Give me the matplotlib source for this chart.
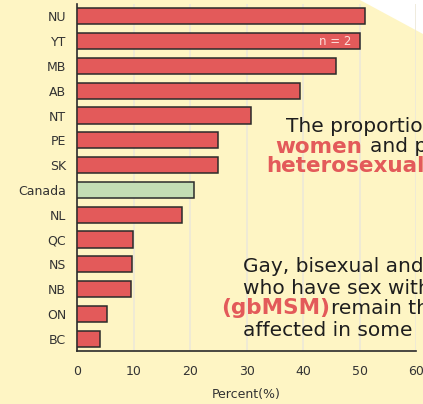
import matplotlib.pyplot as plt
import matplotlib.patches as patches

# данные
regions = ['NU', 'YT', 'MB', 'AB', 'NT', 'PE', 'SK', 'Canada', 'NL', 'QC', 'NS', 'NB', 'ON', 'BC']
percent = [51.0, 50.0, 45.9, 39.4, 30.8, 25.0, 25.0, 20.7, 18.5, 9.9, 9.7, 9.6, 5.2, 4.1]
xticks = [0, 10, 20, 30, 40, 50, 60]

bg = '#fef5c4'
red = '#e35a5a'
green = '#c3ddb4'
dark = '#2b2b2b'

fig = plt.figure(figsize=(4.23, 4.04), dpi=100, facecolor=bg)

# белый треугольник в правом верхнем углу
tri = patches.Polygon([(360 / 423, 1), (1, 1), (1, 1 - 34 / 404)], closed=True,
                      facecolor='white', edgecolor='none', transform=fig.transFigure, zorder=0)
fig.add_artist(tri)

ax = fig.add_axes([77.3 / 423, 1 - 351 / 404, (416 - 77.3) / 423, (351 - 4) / 404])
ax.set_facecolor('none')

colors = [green if r == 'Canada' else red for r in regions]
y = list(range(len(regions)))
ax.barh(y, percent, height=0.65, color=colors, edgecolor=dark, linewidth=1.1, zorder=3)

ax.set_xlim(0, 60)
ax.set_ylim(len(regions) - 0.5, -0.5)
ax.set_yticks(y)
ax.set_yticklabels(regions)
ax.set_xticks(xticks)
ax.tick_params(length=0, labelsize=9, colors='#333333', pad=10)
ax.tick_params(axis='y', pad=8)
ax.grid(True, axis='x', color='#ece8d8', linewidth=1.2, zorder=0)
ax.grid(False, axis='y')

for s in ['top', 'right']:
    ax.spines[s].set_visible(False)
for s in ['left', 'bottom']:
    ax.spines[s].set_color(dark)
    ax.spines[s].set_linewidth(1.2)

ax.set_xlabel('Percent(%)', fontsize=9, color='#333333', labelpad=7)

# подпись внутри бара YT
ax.text(percent[1] - 1.5, 1, 'n = 2', ha='right', va='center', fontsize=8.5, color='#fde0da', zorder=4)

# текст поверх графика (обрезан краем)
def ftxt(x, yy, s, bold=False, color='#1e1e1e'):
    fig.text(x / 423, 1 - yy / 404, s, fontsize=15.5 if bold else 14.5, color=color,
             va='center', ha='left', fontweight='bold' if bold else 'normal', family='DejaVu Sans')

ftxt(286, 127, 'The proportion')
ftxt(275, 147, 'women', bold=True, color=red)
ftxt(370, 147, 'and people')
ftxt(266, 166, 'heterosexual', bold=True, color=red)
ftxt(243, 267, 'Gay, bisexual and')
ftxt(243, 288, 'who have sex with')
ftxt(221, 308, '(gbMSM)', bold=True, color=red)
ftxt(331, 309, 'remain the')
ftxt(243, 330, 'affected in some')

plt.savefig('out.png', dpi=100, facecolor=bg)
